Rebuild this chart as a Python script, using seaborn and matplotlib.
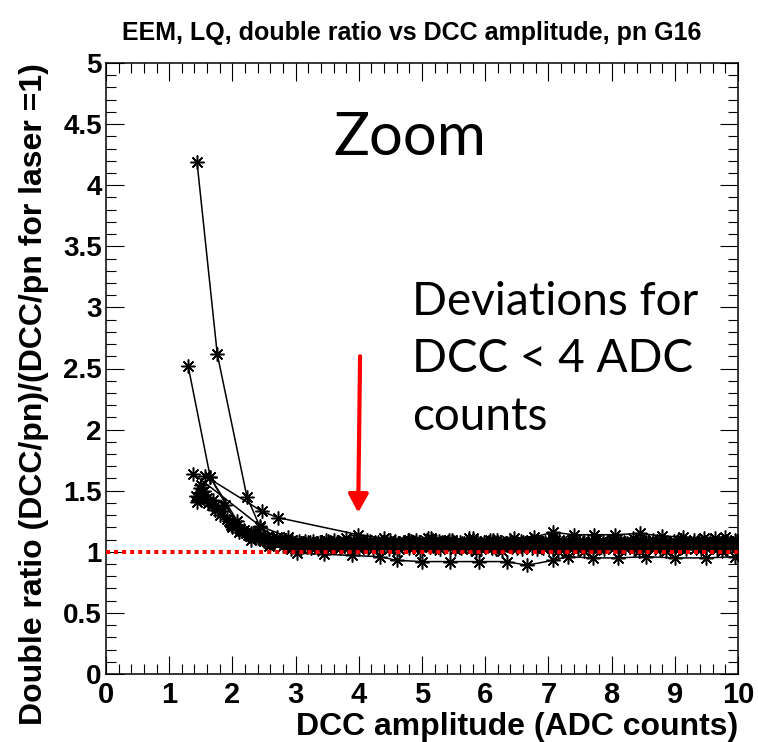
import pandas as pd
import matplotlib
matplotlib.use('Agg')
import matplotlib.pyplot as plt
from matplotlib.ticker import MultipleLocator, FormatStrFormatter
import seaborn as sns

# ---- data: one list pair per channel ----
x1 = [1.44, 1.76, 2.23, 2.44, 2.70, 3.05, 3.38, 3.71, 4.02, 4.35, 4.66, 5.00, 5.31, 5.63,
      5.95, 6.28, 6.60, 6.92, 7.25, 7.57, 7.90, 8.21, 8.55, 8.86, 9.19, 9.51, 9.83]
y1 = [4.19, 2.62, 1.45, 1.20, 1.12, 1.09, 1.08, 1.07, 1.08, 1.07, 1.06, 1.07, 1.08, 1.07,
      1.06, 1.07, 1.08, 1.07, 1.07, 1.08, 1.06, 1.07, 1.08, 1.07, 1.06, 1.07, 1.08]

x2 = [1.30, 1.65, 2.08, 2.35, 2.62, 2.95, 3.27, 3.60, 3.92, 4.25, 4.57, 4.90, 5.22, 5.54,
      5.86, 6.19, 6.51, 6.83, 7.16, 7.48, 7.80, 8.13, 8.45, 8.77, 9.10, 9.42, 9.75, 9.98]
y2 = [2.52, 1.61, 1.22, 1.14, 1.11, 1.10, 1.09, 1.10, 1.09, 1.08, 1.09, 1.10, 1.09, 1.08,
      1.09, 1.10, 1.09, 1.09, 1.10, 1.09, 1.08, 1.09, 1.10, 1.09, 1.10, 1.09, 1.08, 1.09]

x3 = [1.38, 2.44, 2.88, 3.20, 3.55, 3.88, 4.20, 4.53, 4.85, 5.18, 5.50, 5.83, 6.15, 6.48,
      6.80, 7.12, 7.45, 7.77, 8.10, 8.42, 8.75, 9.07, 9.40, 9.72]
y3 = [1.64, 1.21, 1.12, 1.08, 1.06, 1.05, 1.06, 1.05, 1.04, 1.05, 1.06, 1.05, 1.04, 1.05,
      1.06, 1.05, 1.05, 1.04, 1.05, 1.06, 1.05, 1.04, 1.05, 1.06]

x4 = [1.57, 2.47, 2.72, 3.99, 4.40, 4.80, 5.15, 5.48, 5.80, 6.12, 6.45, 6.77, 7.07, 7.40,
      7.72, 8.05, 8.45, 8.80, 9.13, 9.46, 9.80]
y4 = [1.62, 1.33, 1.28, 1.14, 1.11, 1.10, 1.11, 1.10, 1.11, 1.10, 1.11, 1.12, 1.16, 1.14,
      1.14, 1.14, 1.15, 1.13, 1.12, 1.11, 1.12]

x5 = [1.44, 1.72, 1.98, 2.25, 2.55, 2.85, 3.18, 3.50, 3.83, 4.15, 4.48, 4.80, 5.12, 5.45,
      5.77, 6.10, 6.42, 6.74, 7.07, 7.39, 7.71, 8.04, 8.36, 8.68, 9.01, 9.33, 9.66, 9.97]
y5 = [1.41, 1.34, 1.22, 1.14, 1.09, 1.06, 1.04, 1.03, 1.04, 1.03, 1.02, 1.03, 1.04, 1.03,
      1.02, 1.03, 1.04, 1.03, 1.02, 1.03, 1.04, 1.03, 1.02, 1.03, 1.04, 1.03, 1.02, 1.03]

x6 = [1.52, 1.88, 2.18, 2.48, 2.78, 3.10, 3.42, 3.75, 4.07, 4.40, 4.72, 5.05, 5.37, 5.69,
      6.02, 6.34, 6.67, 6.99, 7.31, 7.64, 7.96, 8.29, 8.61, 8.93, 9.26, 9.58, 9.91]
y6 = [1.49, 1.38, 1.18, 1.12, 1.08, 1.07, 1.06, 1.07, 1.06, 1.05, 1.06, 1.07, 1.06, 1.05,
      1.06, 1.07, 1.06, 1.06, 1.05, 1.06, 1.07, 1.06, 1.05, 1.06, 1.07, 1.06, 1.05]

x7 = [1.46, 1.80, 2.10, 2.40, 2.68, 3.00, 3.33, 3.66, 3.98, 4.30, 4.62, 4.95, 5.27, 5.60,
      5.92, 6.24, 6.57, 6.89, 7.22, 7.54, 7.86, 8.19, 8.51, 8.84, 9.16, 9.48, 9.81]
y7 = [1.45, 1.30, 1.16, 1.11, 1.09, 1.08, 1.07, 1.08, 1.09, 1.08, 1.07, 1.08, 1.09, 1.08,
      1.07, 1.08, 1.09, 1.08, 1.07, 1.08, 1.09, 1.08, 1.07, 1.08, 1.09, 1.08, 1.09]

x8 = [1.42, 1.62, 1.95, 2.28, 2.60, 3.02, 3.45, 3.90, 4.34, 4.60, 5.00, 5.45, 5.90, 6.34,
      6.66, 7.07, 7.31, 7.70, 8.10, 8.55, 9.00, 9.50, 9.95]
y8 = [1.46, 1.40, 1.25, 1.13, 1.06, 0.99, 0.98, 0.97, 0.96, 0.93, 0.92, 0.92, 0.92, 0.92,
      0.89, 0.93, 0.96, 0.95, 0.95, 0.96, 0.95, 0.95, 0.96]

x9 = [1.50, 1.70, 2.00, 2.30, 2.58, 2.92, 3.25, 3.58, 3.90, 4.23, 4.55, 4.88, 5.20, 5.52,
      5.85, 6.17, 6.50, 6.82, 7.15, 7.47, 7.80, 8.12, 8.44, 8.77, 9.09, 9.42, 9.74]
y9 = [1.55, 1.42, 1.20, 1.10, 1.05, 1.02, 1.03, 1.04, 1.03, 1.02, 1.03, 1.04, 1.03, 1.02,
      1.01, 1.02, 1.03, 1.02, 1.01, 1.02, 1.03, 1.02, 1.01, 1.02, 1.03, 1.02, 1.01]

x10 = [1.65, 2.08, 2.30, 2.55, 2.85, 3.15, 3.48, 3.80, 4.13, 4.45, 4.78, 5.10, 5.43, 5.75,
       6.07, 6.40, 6.72, 7.05, 7.37, 7.69, 8.02, 8.34, 8.66, 8.99, 9.31, 9.64, 9.96]
y10 = [1.61, 1.25, 1.15, 1.12, 1.10, 1.09, 1.10, 1.11, 1.10, 1.09, 1.10, 1.11, 1.10, 1.11,
       1.10, 1.09, 1.10, 1.11, 1.10, 1.09, 1.10, 1.11, 1.10, 1.09, 1.10, 1.11, 1.10]

x11 = [1.48, 1.78, 2.05, 2.33, 2.52, 2.76, 3.12, 3.40, 3.68, 4.05, 4.38, 4.70, 5.03, 5.35,
       5.66, 5.98, 6.31, 6.63, 6.95, 7.28, 7.60, 7.93, 8.25, 8.58, 8.90, 9.22, 9.55, 9.87]
y11 = [1.52, 1.36, 1.21, 1.15, 1.11, 1.09, 1.07, 1.08, 1.07, 1.06, 1.08, 1.07, 1.06, 1.08,
       1.07, 1.08, 1.06, 1.07, 1.08, 1.07, 1.06, 1.08, 1.07, 1.08, 1.06, 1.07, 1.08, 1.07]

x12 = [1.60, 1.92, 2.15, 2.42, 2.65, 2.98, 3.30, 3.62, 3.95, 4.27, 4.60, 4.92, 5.25, 5.57,
       5.89, 6.21, 6.54, 6.86, 7.19, 7.51, 7.83, 8.16, 8.48, 8.81, 9.13, 9.45, 9.78]
y12 = [1.44, 1.27, 1.17, 1.12, 1.08, 1.06, 1.05, 1.04, 1.05, 1.04, 1.05, 1.06, 1.04, 1.05,
       1.04, 1.05, 1.06, 1.05, 1.04, 1.05, 1.04, 1.06, 1.05, 1.04, 1.05, 1.06, 1.04]

x13 = [1.55, 1.84, 2.12, 2.38, 2.64, 2.92, 3.22, 3.52, 3.86, 4.18, 4.50, 4.83, 5.15, 5.48,
       5.80, 6.13, 6.45, 6.78, 7.10, 7.42, 7.75, 8.07, 8.40, 8.72, 9.05, 9.37, 9.69, 9.99]
y13 = [1.50, 1.33, 1.19, 1.13, 1.10, 1.09, 1.08, 1.09, 1.08, 1.09, 1.10, 1.09, 1.08, 1.09,
       1.10, 1.09, 1.08, 1.09, 1.10, 1.09, 1.10, 1.09, 1.08, 1.09, 1.10, 1.09, 1.08, 1.09]

x14 = [1.68, 1.96, 2.22, 2.50, 2.80, 3.08, 3.36, 3.70, 4.00, 4.32, 4.64, 4.97, 5.29, 5.62,
       5.94, 6.26, 6.59, 6.91, 7.24, 7.56, 7.88, 8.21, 8.53, 8.86, 9.18, 9.50, 9.83]
y14 = [1.38, 1.24, 1.15, 1.09, 1.05, 1.03, 1.02, 1.03, 1.02, 1.03, 1.02, 1.01, 1.02, 1.03,
       1.02, 1.01, 1.02, 1.03, 1.02, 1.01, 1.02, 1.03, 1.02, 1.01, 1.02, 1.03, 1.02]

channels = [(x1, y1), (x2, y2), (x3, y3), (x4, y4), (x5, y5), (x6, y6), (x7, y7),
            (x8, y8), (x9, y9), (x10, y10), (x11, y11), (x12, y12), (x13, y13), (x14, y14)]

frames = []
for i, (xs, ys) in enumerate(channels):
    frames.append(pd.DataFrame({'dcc': xs, 'ratio': ys, 'ch': i}))
df = pd.concat(frames, ignore_index=True)

# ---- ROOT-like look ----
sns.set_style('ticks')
plt.rcParams.update({
    'font.family': ['Liberation Sans', 'DejaVu Sans'],
    'font.weight': 'bold',
    'text.color': 'black',
    'axes.edgecolor': 'black',
    'xtick.color': 'black',
    'ytick.color': 'black',
    'axes.linewidth': 1.1,
    'xtick.direction': 'in',
    'ytick.direction': 'in',
    'xtick.top': True,
    'ytick.right': True,
    'xtick.major.size': 13,
    'ytick.major.size': 13,
    'xtick.minor.size': 7,
    'ytick.minor.size': 7,
    'xtick.major.width': 0.8,
    'ytick.major.width': 0.8,
    'xtick.minor.width': 0.8,
    'ytick.minor.width': 0.8,
})

fig = plt.figure(figsize=(7.58, 7.42), dpi=100)
ax = fig.add_axes([106 / 758, 1 - 674 / 742, (738 - 106) / 758, (674 - 63) / 742])

sns.lineplot(data=df, x='dcc', y='ratio', units='ch', estimator=None, sort=False,
             color='black', linewidth=1.1, marker=(8, 2, 0), markersize=10,
             markeredgecolor='black', markeredgewidth=1.1, legend=False, ax=ax)

ax.axhline(1.0, color='red', linewidth=2.9, linestyle=(0, (1, 1)), zorder=5)

ax.annotate('', xy=(3.99, 1.32), xytext=(4.02, 2.60),
            arrowprops=dict(arrowstyle='-|>,head_length=1.1,head_width=0.6',
                            color='red', lw=3, mutation_scale=10,
                            shrinkA=0, shrinkB=0), zorder=6)

ax.set_xlim(0, 10)
ax.set_ylim(0, 5)
ax.xaxis.set_major_locator(MultipleLocator(1))
ax.xaxis.set_minor_locator(MultipleLocator(0.2))
ax.yaxis.set_major_locator(MultipleLocator(0.5))
ax.yaxis.set_minor_locator(MultipleLocator(0.1))
ax.yaxis.set_major_formatter(FormatStrFormatter('%g'))
ax.tick_params(axis='x', which='major', labelsize=21, pad=5)
ax.tick_params(axis='y', which='major', labelsize=20, pad=3)
ax.tick_params(which='both', top=True, right=True)
ax.set_xlabel('')
ax.set_ylabel('')

fig.text(412 / 758, 1 - 40 / 742, 'EEM, LQ, double ratio vs DCC amplitude, pn G16',
         fontsize=18, fontweight='bold', ha='center', va='baseline')
fig.text(738 / 758, 1 - 735 / 742, 'DCC amplitude (ADC counts)',
         fontsize=23, fontweight='bold', ha='right', va='baseline')
fig.text(34 / 758, 1 - 63 / 742, 'Double ratio (DCC/pn)/(DCC/pn for laser =1)',
         fontsize=23, fontweight='bold', ha='center', va='top', rotation=90)

fig.text(333 / 758, 1 - 155 / 742, 'Zoom', family='Lato', fontweight='normal',
         fontsize=43, va='baseline', color='black')
for txt, base in [('Deviations for', 315), ('DCC < 4 ADC', 372), ('counts', 430)]:
    fig.text(412 / 758, 1 - base / 742, txt, family='Lato', fontweight='normal',
             fontsize=33, va='baseline', color='black')

fig.savefig('out.png', dpi=100, facecolor='white')
